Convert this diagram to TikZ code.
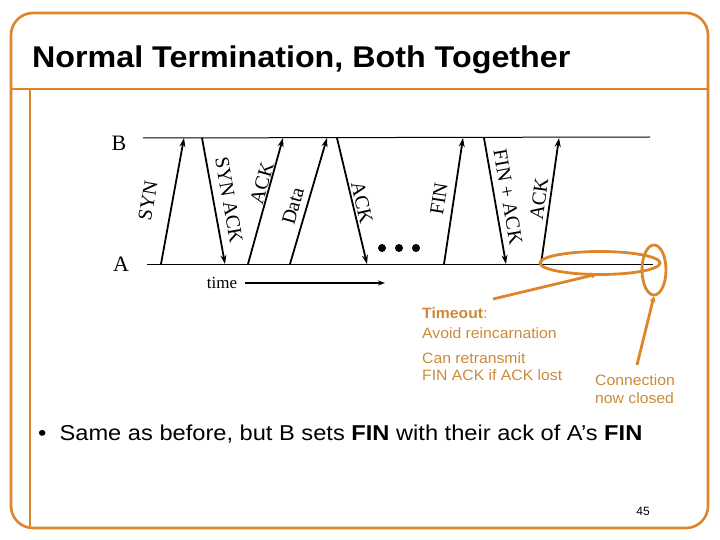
\documentclass[tikz,border=0pt]{standalone}
\usepackage{fontspec}
\setmainfont{Liberation Serif}
\setsansfont{Liberation Sans}
\usetikzlibrary{arrows.meta}
\definecolor{frameorange}{RGB}{221,133,43}
\definecolor{noteorange}{RGB}{204,138,56}
\tikzset{
  msg/.style={line width=1.8pt,-{Stealth[length=9pt,width=6pt]}},
  lbl/.style={font=\fontsize{20}{20}\selectfont,inner sep=0pt},
  note/.style={font=\sffamily\fontsize{15}{15}\selectfont,text=noteorange,anchor=base west,inner sep=0pt},
  oline/.style={draw=frameorange,line width=2.8pt},
}
\begin{document}
\begin{tikzpicture}[x=1pt,y=-1pt]
\useasboundingbox (0,0) rectangle (720,540);
% frame
\draw[frameorange,line width=2.6pt,rounded corners=22pt] (11,13) rectangle (708,528);
\draw[frameorange,line width=2.6pt] (11,89) -- (708,89);
\draw[frameorange,line width=2.6pt] (30,89) -- (30,528);
\node[anchor=base west,inner sep=0pt,font=\sffamily\bfseries\fontsize{30}{30}\selectfont] (title) at (32,68) {\scalebox{1.075}[1]{Normal Termination, Both Together}};
% time lines
\node[font=\fontsize{22}{22}\selectfont,inner sep=0pt] (B) at (119,143) {B};
\node[font=\fontsize{22}{22}\selectfont,inner sep=0pt] (A) at (121,264) {A};
\coordinate (bl) at (143,138); \coordinate (br) at (650,137);
\coordinate (al) at (147,264); \coordinate (ar) at (653,264);
\draw[line width=1pt] (bl) -- (br);
\draw[line width=1pt] (al) -- (ar);
% messages
\coordinate (a1) at (161,264); \coordinate (b1) at (184,138);
\coordinate (b2) at (202,138); \coordinate (a2) at (225,264);
\coordinate (a3) at (248,264); \coordinate (b3) at (283,138);
\coordinate (a4) at (290,264); \coordinate (b4) at (327,138);
\coordinate (b5) at (337,138); \coordinate (a5) at (367,264);
\coordinate (a6) at (444,264); \coordinate (b6) at (463,138);
\coordinate (b7) at (484,138); \coordinate (a7) at (506,264);
\coordinate (a8) at (541,264); \coordinate (b8) at (559,138);
\draw[msg] (a1) -- (b1);
\draw[msg] (b2) -- (a2);
\draw[msg] (a3) -- (b3);
\draw[msg] (a4) -- (b4);
\draw[msg] (b5) -- (a5);
\draw[msg] (a6) -- (b6);
\draw[msg] (b7) -- (a7);
\draw[msg] (a8) -- (b8);
\node[lbl,rotate=80] (l1) at (148,201) {SYN};
\node[lbl,rotate=-80] (l2) at (229,200) {SYN ACK};
\node[lbl,rotate=74] (l3) at (262,183) {ACK};
\node[lbl,rotate=74] (l4) at (293,206) {Data};
\node[lbl,rotate=-77] (l5) at (362,203) {ACK};
\node[lbl,rotate=81] (l6) at (439,199) {FIN};
\node[lbl,rotate=-80] (l7) at (508,197) {FIN + ACK};
\node[lbl,rotate=82] (l8) at (539,199) {ACK};
% dots
\fill (382,248) circle (4pt);
\fill (399,248) circle (4pt);
\fill (416,248) circle (4pt);
% time
\node[font=\fontsize{17}{17}\selectfont,inner sep=0pt] (time) at (222,283) {time};
\coordinate (tend) at (385,283);
\draw[line width=2.2pt,-{Stealth[length=7pt,width=5pt]}] (time.east) ++(8,0) coordinate (tstart) -- (tend);
% orange annotations
\draw[oline] (600,263) ellipse (60pt and 11.5pt);
\draw[oline] (654,270) ellipse (12pt and 25pt);
\coordinate (tl1) at (493,299); \coordinate (tl2) at (598,274);
\draw[oline,-{Stealth[length=7pt,width=6pt]}] (tl1) -- (tl2);
\coordinate (cl1) at (637,365); \coordinate (cl2) at (654,296);
\draw[oline,-{Stealth[length=6pt,width=6pt]}] (cl1) -- (cl2);
\node[note] (n1) at (422,318) {\scalebox{1.05}[1]{\textbf{Timeout}:}};
\node[note] (n2) at (422,338) {\scalebox{1.05}[1]{Avoid reincarnation}};
\node[note] (n3) at (422,363) {\scalebox{1.05}[1]{Can retransmit}};
\node[note] (n4) at (422,380) {\scalebox{1.05}[1]{FIN ACK if ACK lost}};
\node[note] (n5) at (595,385) {\scalebox{1.05}[1]{Connection}};
\node[note] (n6) at (595,403) {\scalebox{1.05}[1]{now closed}};
% bullet
\node[anchor=base west,inner sep=0pt,font=\sffamily\fontsize{21.5}{21.5}\selectfont] (bul) at (38,440) {\scalebox{1.1}[1]{\textbullet\ \ Same as before, but B sets \textbf{FIN} with their ack of A’s \textbf{FIN}}};
\node[anchor=base,inner sep=0pt,font=\sffamily\fontsize{12}{12}\selectfont] (pg) at (643,515) {45};
\end{tikzpicture}
\end{document}
